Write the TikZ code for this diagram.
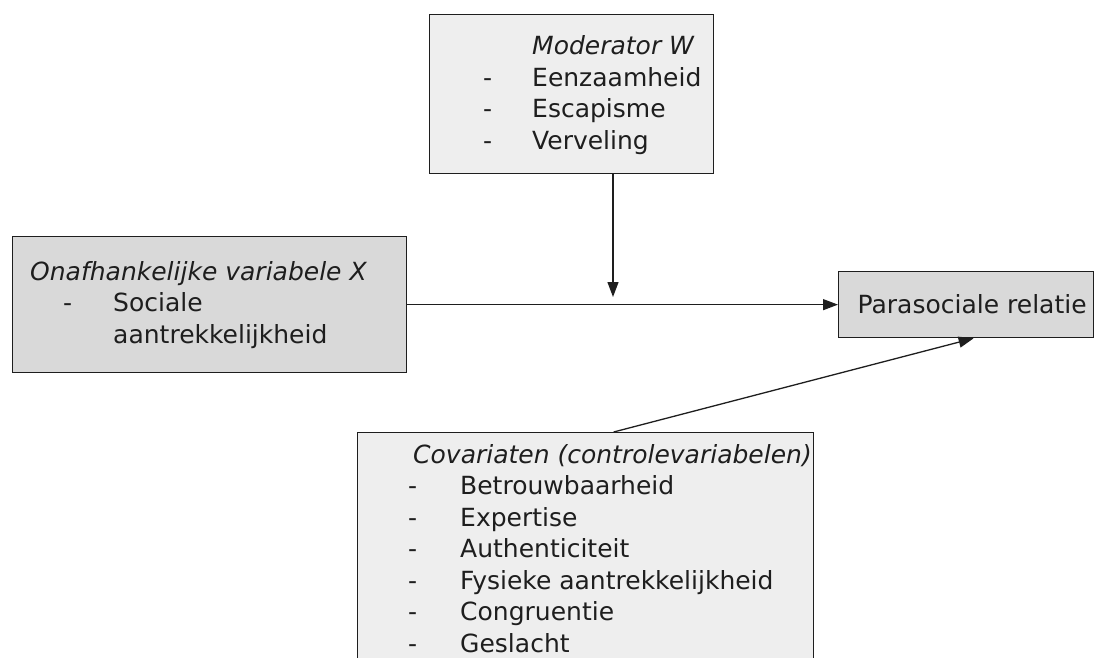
\documentclass[tikz,border=0pt]{standalone}
\usepackage{fontspec}
\setmainfont{DejaVu Sans}
\usetikzlibrary{arrows.meta,positioning}
\definecolor{Pale}{HTML}{EEEEEE}
\definecolor{Shade}{HTML}{D9D9D9}
\definecolor{Ink}{HTML}{1E1E1E}

\newcommand{\dashcol}[1]{\makebox[#1][l]{-}}
\newcommand{\toplines}[1]{\begin{tabular}[t]{@{}l@{}}#1\end{tabular}}

\tikzset{
  varbox/.style={draw=Ink,line width=1.3pt,anchor=north west,inner sep=0pt},
  listtext/.style={anchor=base west,text=Ink,inner sep=0pt,font=\fontsize{25}{31.5}\selectfont},
  link/.style={draw=Ink,line width=1.3pt,-{Triangle[length=15pt,width=11pt]}}
}

\begin{document}
\begin{tikzpicture}[x=1pt,y=-1pt]
    \clip (0,0) rectangle (1101,658);
    \useasboundingbox (0,0) rectangle (1101,658);

    % boxes
    \node[varbox,fill=Pale,minimum width=284pt,minimum height=159pt] (modbox) at (429,14) {};
    \node[varbox,fill=Shade,minimum width=394pt,minimum height=136pt] (xbox) at (12,236) {};
    \node[varbox,fill=Shade,minimum height=66pt,text=Ink,font=\fontsize{25}{31.5}\selectfont]
          (parbox) at (838,271) {\makebox[255pt][l]{\hspace*{19pt}Parasociale relatie}};
    \node[varbox,fill=Pale,minimum width=456pt,minimum height=260pt] (covbox) at (357,432) {};

    % texts
    \node[listtext] (modtext) at (483,55) {\toplines{\hspace*{49pt}\textit{Moderator W}\\
      \dashcol{49pt}Eenzaamheid\\
      \dashcol{49pt}Escapisme\\
      \dashcol{49pt}Verveling}};
    \node[listtext] (xtext) at (30,280) {\toplines{\textit{Onafhankelijke variabele X}\\
      \hspace*{33pt}\dashcol{50pt}Sociale\\
      \hspace*{83pt}aantrekkelijkheid}};
    \node[listtext] (covtext) at (408,463) {\toplines{\hspace*{5pt}\textit{Covariaten (controlevariabelen)}\\
      \dashcol{52pt}Betrouwbaarheid\\
      \dashcol{52pt}Expertise\\
      \dashcol{52pt}Authenticiteit\\
      \dashcol{52pt}Fysieke aantrekkelijkheid\\
      \dashcol{52pt}Congruentie\\
      \dashcol{52pt}Geslacht}};

    % connectors
    \coordinate (modtip) at (613,297);
    \draw[link] (modbox.south -| modtip) -- (modtip);
    \draw[link] (xbox) -- (parbox);
    \draw[link] ([xshift=28pt]covbox.north) -- ([xshift=7.5pt]parbox.south);
\end{tikzpicture}
\end{document}
